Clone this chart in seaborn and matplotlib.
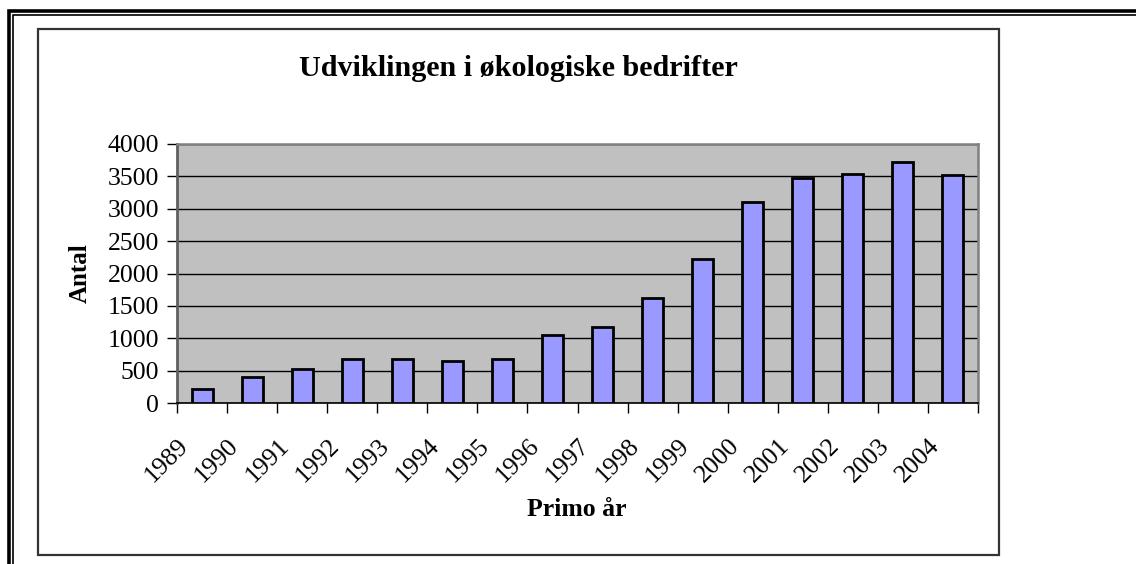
import matplotlib
matplotlib.use("Agg")
import matplotlib.pyplot as plt
import matplotlib.transforms as mtransforms
from matplotlib.patches import Rectangle
from matplotlib.ticker import FixedLocator
import seaborn as sns
import numpy as np

# data
years = ['1989', '1990', '1991', '1992', '1993', '1994', '1995', '1996',
         '1997', '1998', '1999', '2000', '2001', '2002', '2003', '2004']
antal = [216, 401, 524, 674, 678, 643, 678, 1049,
         1167, 1620, 2231, 3105, 3470, 3537, 3717, 3522]
y_ticks = [0, 500, 1000, 1500, 2000, 2500, 3000, 3500, 4000]

plt.rcParams['font.family'] = ['Liberation Serif', 'DejaVu Serif']

fig = plt.figure(figsize=(11.36, 5.64), dpi=100)
W, H = 1136, 564

# double frame round the page (px coordinates)
def px_rect(x0, y0, x1, y1, lw, col):
    fig.patches.append(Rectangle((x0 / W, 1 - y1 / H), (x1 - x0) / W, (y1 - y0) / H,
                                 transform=fig.transFigure, fill=False,
                                 lw=lw, edgecolor=col, zorder=0))

px_rect(8.5, 11, 1200, 700, 2.6, 'black')
px_rect(12.5, 14.5, 1200, 700, 1.2, 'black')
# chart frame
px_rect(38, 29, 999, 555, 1.6, '#333333')

ax = fig.add_axes([177 / W, 1 - 403 / H, (978 - 177) / W, (403 - 144) / H])
ax.set_facecolor('#C0C0C0')

sns.barplot(x=years, y=antal, color='#9999FF', saturation=1, edgecolor='black',
            linewidth=2, width=0.42, ax=ax, zorder=3)

ax.set_xlim(-0.5, len(years) - 0.5)
ax.set_ylim(0, 4000)
ax.set_yticks(y_ticks)
ax.set_yticklabels([str(t) for t in y_ticks], fontsize=18.5)
ax.yaxis.grid(True, color='black', lw=1, zorder=1)
ax.set_axisbelow(True)

ax.set_xticks(range(len(years)))
ax.set_xticklabels(years, rotation=45, ha='right', va='top', fontsize=18.5)
ax.tick_params(axis='x', which='major', length=0, pad=23)
ax.xaxis.set_minor_locator(FixedLocator(np.arange(-0.5, len(years), 1)))
ax.tick_params(axis='x', which='minor', length=7, width=1, color='black', direction='out')
ax.tick_params(axis='y', length=7, width=1, color='black', direction='out', pad=6)
shift = mtransforms.ScaledTranslation(-9 / 100, 0, fig.dpi_scale_trans)
for lbl in ax.get_xticklabels():
    lbl.set_transform(lbl.get_transform() + shift)

for side in ['top', 'right']:
    ax.spines[side].set_color('#808080')
    ax.spines[side].set_linewidth(1.8)
ax.spines['left'].set_color('#606060')
ax.spines['left'].set_linewidth(2)
ax.spines['bottom'].set_color('black')
ax.spines['bottom'].set_linewidth(1.2)

ax.set_xlabel('')
ax.set_ylabel('')
fig.text(577 / W, 1 - 510 / H, 'Primo år', ha='center', va='center',
         fontsize=18.5, fontweight='bold')
fig.text(80 / W, 1 - 273 / H, 'Antal', ha='center', va='center', rotation=90,
         fontsize=18, fontweight='bold')
fig.text(518 / W, 1 - 68 / H, 'Udviklingen i økologiske bedrifter', ha='center',
         va='center', fontsize=21.7, fontweight='bold')

fig.savefig('out.png', dpi=100)
